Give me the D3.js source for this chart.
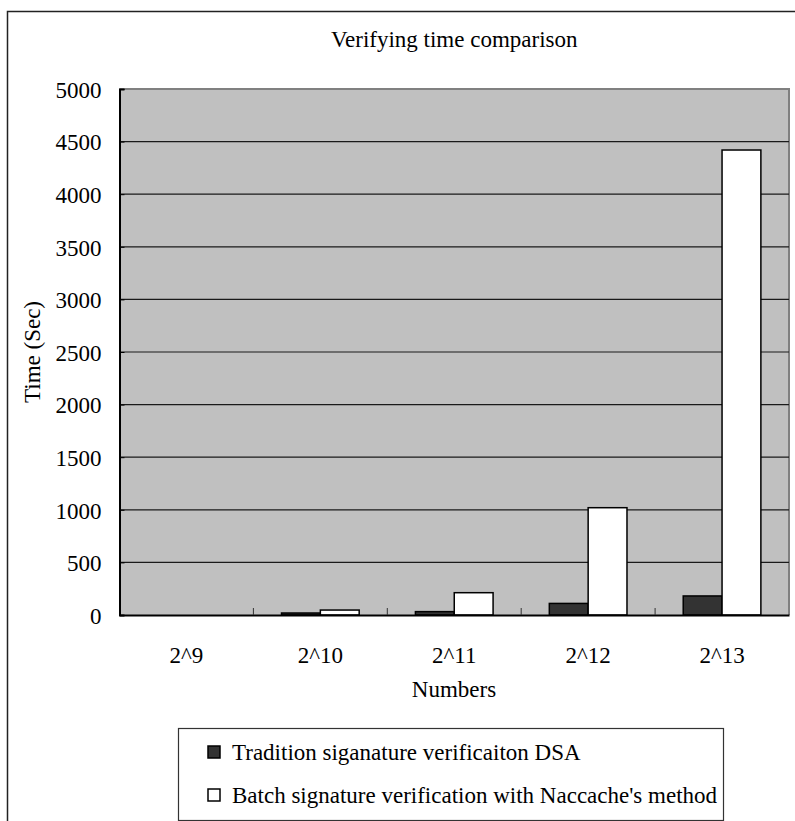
<!DOCTYPE html>
<html><head><meta charset="utf-8">
<script src="https://cdn.jsdelivr.net/npm/d3@7"></script>
<style>body{margin:0;background:#fff}svg text{font-family:"Liberation Serif","DejaVu Serif",serif;fill:#000}</style>
</head><body>
<svg id="c" width="795" height="821"></svg>
<script>
const categories = ["2^9","2^10","2^11","2^12","2^13"];
const seriesNames = ["Tradition siganature verificaiton DSA","Batch signature verification with Naccache's method"];
const dsaValues = [0, 19, 32, 110, 181];
const batchValues = [0, 47, 212, 1020, 4420];
const yTicks = [0,500,1000,1500,2000,2500,3000,3500,4000,4500,5000];
const colors = ["#333333","#ffffff"];

const svg = d3.select("#c");
const L = 119.5, R = 789, T = 89, B = 615;
const fs = 23;

// outer frame
svg.append("path").attr("d","M7.5,821 V11.5 H795").attr("fill","none").attr("stroke","#222").attr("stroke-width",1.5);

const x0 = d3.scaleBand().domain(categories).range([L,R]).padding(0);
const x1 = d3.scaleBand().domain([0,1]).range([x0.bandwidth()*0.21, x0.bandwidth()*0.79]).padding(0);
const y = d3.scaleLinear().domain([0,5000]).range([B,T]);

svg.append("rect").attr("x",L).attr("y",T).attr("width",R-L).attr("height",B-T).attr("fill","#c0c0c0");
svg.append("path").attr("d",`M${L},${T} H${R} V${B}`).attr("fill","none").attr("stroke","#808080").attr("stroke-width",2);

// gridlines
svg.append("g").selectAll("line").data(yTicks.filter(d=>d>0&&d<5000)).join("line")
  .attr("x1",L).attr("x2",R).attr("y1",d=>y(d)).attr("y2",d=>y(d)).attr("stroke","#1a1a1a").attr("stroke-width",1.2);

// y axis
const ya = svg.append("g").attr("transform",`translate(${L},0)`)
  .call(d3.axisLeft(y).tickValues(yTicks).tickSize(-5).tickPadding(18).tickFormat(d3.format("d")));
ya.select(".domain").attr("stroke","#000").attr("stroke-width",2);
ya.selectAll(".tick line").attr("stroke","#000");
ya.selectAll(".tick text").attr("font-size",fs).attr("dy","0.36em");

// bars
const data = categories.map((c,i)=>({c, v:[dsaValues[i], batchValues[i]]}));
const gb = svg.append("g");
data.forEach(d=>{
  d.v.forEach((v,j)=>{
    if (v<=0) return;
    gb.append("rect").attr("x",x0(d.c)+x1(j)).attr("y",y(v)).attr("width",x1.bandwidth()).attr("height",B-y(v))
      .attr("fill",colors[j]).attr("stroke","#000").attr("stroke-width",1.5);
  });
});

// x axis
const xa = svg.append("g").attr("transform",`translate(0,${B})`)
  .call(d3.axisBottom(x0).tickSize(0).tickPadding(32));
xa.select(".domain").attr("stroke","#000").attr("stroke-width",2);
xa.selectAll(".tick text").attr("font-size",fs);
svg.append("g").selectAll("line").data(categories.slice(1)).join("line")
  .attr("x1",d=>x0(d)).attr("x2",d=>x0(d)).attr("y1",B).attr("y2",B-7).attr("stroke","#333").attr("stroke-width",1);

// titles
svg.append("text").attr("x",(L+R)/2).attr("y",47).attr("text-anchor","middle").attr("font-size",fs).text("Verifying time comparison");
svg.append("text").attr("x",454).attr("y",697).attr("text-anchor","middle").attr("font-size",fs).text("Numbers");
svg.append("text").attr("transform","translate(40,352) rotate(-90)").attr("text-anchor","middle").attr("font-size",fs).text("Time (Sec)");

// legend
svg.append("rect").attr("x",178.5).attr("y",728.5).attr("width",545).attr("height",92).attr("fill","#fff").attr("stroke","#333").attr("stroke-width",1.2);
seriesNames.forEach((n,i)=>{
  const cy = 752 + i*43;
  svg.append("rect").attr("x",208).attr("y",cy-6).attr("width",12).attr("height",12).attr("fill",colors[i]).attr("stroke","#000").attr("stroke-width",1.5);
  svg.append("text").attr("x",232).attr("y",cy+8).attr("font-size",fs).text(n);
});
</script>
</body></html>
